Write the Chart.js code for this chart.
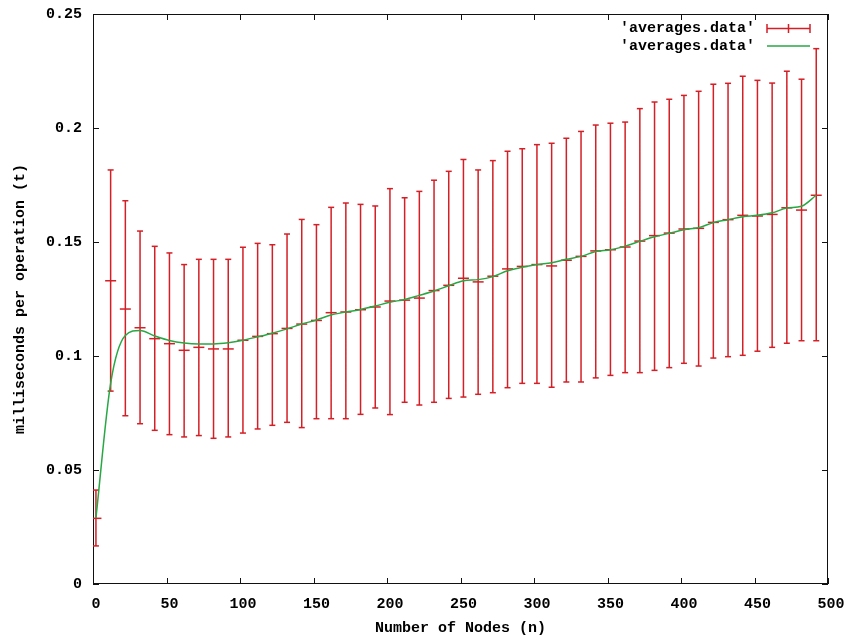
<!DOCTYPE html>
<html><head><meta charset="utf-8">
<script src="https://cdn.jsdelivr.net/npm/chart.js@4.4.1/dist/chart.umd.min.js"></script>
<style>html,body{margin:0;padding:0;background:#fff;}#wrap{width:850px;height:640px;}</style>
</head><body><div id="wrap"><canvas id="c" width="850" height="640"></canvas></div>
<script>
// ---- data ----
const nodes = [2,12,22,32,42,52,62,72,82,92,102,112,122,132,142,152,162,172,182,192,202,212,222,232,242,252,262,272,282,292,302,312,322,332,342,352,362,372,382,392,402,412,422,432,442,452,462,472,482,492];
const means = [0.0288,0.1330,0.1206,0.1124,0.1076,0.1054,0.1025,0.1038,0.1031,0.1031,0.1069,0.1086,0.1098,0.1121,0.1140,0.1156,0.1190,0.1193,0.1203,0.1215,0.1241,0.1245,0.1254,0.1287,0.1310,0.1341,0.1325,0.1350,0.1382,0.1393,0.1401,0.1395,0.1420,0.1437,0.1461,0.1466,0.1478,0.1504,0.1528,0.1539,0.1557,0.1560,0.1586,0.1598,0.1617,0.1614,0.1621,0.1650,0.1640,0.1705];
const highs = [0.0412,0.1816,0.1681,0.1548,0.1481,0.1452,0.1401,0.1424,0.1424,0.1424,0.1477,0.1494,0.1488,0.1535,0.1599,0.1576,0.1652,0.1671,0.1665,0.1658,0.1734,0.1694,0.1722,0.1771,0.1810,0.1862,0.1816,0.1857,0.1898,0.1909,0.1927,0.1933,0.1955,0.1985,0.2013,0.2021,0.2026,0.2085,0.2114,0.2126,0.2143,0.2161,0.2192,0.2196,0.2227,0.2209,0.2197,0.2249,0.2214,0.2348];
const lows = [0.0167,0.0846,0.0738,0.0703,0.0674,0.0655,0.0645,0.0651,0.0639,0.0645,0.0662,0.0680,0.0696,0.0709,0.0686,0.0725,0.0725,0.0725,0.0744,0.0772,0.0743,0.0797,0.0785,0.0797,0.0814,0.0820,0.0832,0.0839,0.0861,0.0880,0.0880,0.0863,0.0886,0.0886,0.0904,0.0915,0.0927,0.0927,0.0937,0.0949,0.0968,0.0956,0.0991,0.0997,0.1003,0.1021,0.1038,0.1056,0.1067,0.1067];
const smoothed = [0.0290,0.0880,0.1090,0.1112,0.1088,0.1068,0.1057,0.1053,0.1053,0.1058,0.1069,0.1084,0.1100,0.1119,0.1140,0.1158,0.1180,0.1193,0.1204,0.1219,0.1236,0.1248,0.1266,0.1285,0.1308,0.1330,0.1335,0.1348,0.1374,0.1389,0.1401,0.1409,0.1424,0.1437,0.1458,0.1466,0.1482,0.1503,0.1523,0.1538,0.1554,0.1563,0.1585,0.1598,0.1611,0.1617,0.1628,0.1649,0.1657,0.1705];
const xTicks = [0,50,100,150,200,250,300,350,400,450,500];
const xTickLabels = ['0','50','100','150','200','250','300','350','400','450','500'];
const yTicks = [0,0.05,0.1,0.15,0.2,0.25];
const yTickLabels = ['0','0.05','0.1','0.15','0.2','0.25'];
const seriesNames = ["'averages.data'", "'averages.data'"];
const xTitle = 'Number of Nodes (n)';
const yTitle = 'milliseconds per operation (t)';

// ---- styles ----
const FONT = "'Liberation Mono','DejaVu Sans Mono',monospace";
const RED = '#d41f26';
const GREEN = '#27a844';

const barData = [];
nodes.forEach((n, i) => { barData.push({x: n, y: lows[i]}, {x: n, y: highs[i]}, {x: n, y: null}); });
const meanData = nodes.map((n, i) => ({x: n, y: means[i]}));
const smoothData = nodes.map((n, i) => ({x: n, y: smoothed[i]}));

const framePlugin = {
  id: 'frame',
  beforeDatasetsDraw(chart) {
    const {ctx, chartArea: a, scales: {x, y}} = chart;
    ctx.save();
    ctx.strokeStyle = '#111';
    ctx.lineWidth = 1;
    ctx.strokeRect(a.left + 0.5, a.top + 0.5, a.right - a.left - 1, a.bottom - a.top - 1);
    ctx.beginPath();
    x.ticks.forEach(t => {
      const p = Math.round(x.getPixelForValue(t.value)) + 0.5;
      ctx.moveTo(p, a.bottom); ctx.lineTo(p, a.bottom - 6);
      ctx.moveTo(p, a.top); ctx.lineTo(p, a.top + 6);
    });
    y.ticks.forEach(t => {
      const p = Math.round(y.getPixelForValue(t.value)) + 0.5;
      ctx.moveTo(a.left, p); ctx.lineTo(a.left + 6, p);
      ctx.moveTo(a.right, p); ctx.lineTo(a.right - 6, p);
    });
    ctx.stroke();
    ctx.restore();
  },
  afterDraw(chart) {
    const {ctx} = chart;
    ctx.save();
    ctx.font = 'bold 15px ' + FONT;
    ctx.fillStyle = '#000';
    ctx.textAlign = 'right';
    ctx.textBaseline = 'middle';
    ctx.fillText(seriesNames[0], 755, 28);
    ctx.fillText(seriesNames[1], 755, 46);
    // error-bar sample
    ctx.strokeStyle = RED; ctx.lineWidth = 1.5;
    ctx.beginPath();
    ctx.moveTo(767, 28.5); ctx.lineTo(810, 28.5);
    ctx.moveTo(767, 24); ctx.lineTo(767, 33);
    ctx.moveTo(810, 24); ctx.lineTo(810, 33);
    ctx.moveTo(788.5, 24); ctx.lineTo(788.5, 33);
    ctx.stroke();
    // line sample
    ctx.strokeStyle = GREEN;
    ctx.beginPath(); ctx.moveTo(767, 46); ctx.lineTo(810, 46); ctx.stroke();
    ctx.restore();
  }
};

new Chart(document.getElementById('c'), {
  type: 'scatter',
  data: {
    datasets: [
      {
        label: seriesNames[1], data: smoothData, showLine: true, order: 0,
        borderColor: GREEN, borderWidth: 1.5, pointRadius: 0,
        cubicInterpolationMode: 'monotone', fill: false
      },
      {
        label: 'means', data: meanData, showLine: false, order: 1,
        pointStyle: 'line', pointRadius: 5.5, pointBorderColor: RED, pointBorderWidth: 1.5,
        pointBackgroundColor: RED
      },
      {
        label: seriesNames[0], data: barData, showLine: true, spanGaps: false, order: 2,
        borderColor: RED, borderWidth: 1.5, tension: 0,
        pointStyle: 'line', pointRadius: 3, pointBorderColor: RED, pointBorderWidth: 1.5,
        pointBackgroundColor: RED
      }
    ]
  },
  options: {
    responsive: false, animation: false, devicePixelRatio: 1,
    layout: {padding: {left: 0, top: 14, right: 22, bottom: 0}},
    plugins: {legend: {display: false}, tooltip: {enabled: false}},
    scales: {
      x: {
        type: 'linear', min: 0, max: 500,
        afterBuildTicks: s => { s.ticks = xTicks.map(v => ({value: v})); },
        afterFit: s => { s.height = 56; s.paddingLeft = 0; s.paddingRight = 0; },
        grid: {display: false, drawTicks: false},
        border: {display: false},
        ticks: {
          color: '#000', padding: 11, labelOffset: 3, maxRotation: 0, autoSkip: false,
          font: {family: FONT, size: 15, weight: 'bold'},
          callback: (v, i) => xTickLabels[i]
        },
        title: {display: true, text: xTitle, color: '#000', padding: {top: 0, bottom: 3},
          font: {family: FONT, size: 15, weight: 'bold'}}
      },
      y: {
        type: 'linear', min: 0, max: 0.25,
        afterBuildTicks: s => { s.ticks = yTicks.map(v => ({value: v})); },
        afterFit: s => { s.width = 93; s.paddingTop = 0; s.paddingBottom = 0; },
        grid: {display: false, drawTicks: false},
        border: {display: false},
        ticks: {
          color: '#000', padding: 11, autoSkip: false,
          font: {family: FONT, size: 15, weight: 'bold'},
          callback: (v, i) => yTickLabels[i]
        },
        title: {display: true, text: yTitle, color: '#000', padding: {top: 11, bottom: 0},
          font: {family: FONT, size: 15, weight: 'bold'}}
      }
    }
  },
  plugins: [framePlugin]
});
</script>
</body></html>
